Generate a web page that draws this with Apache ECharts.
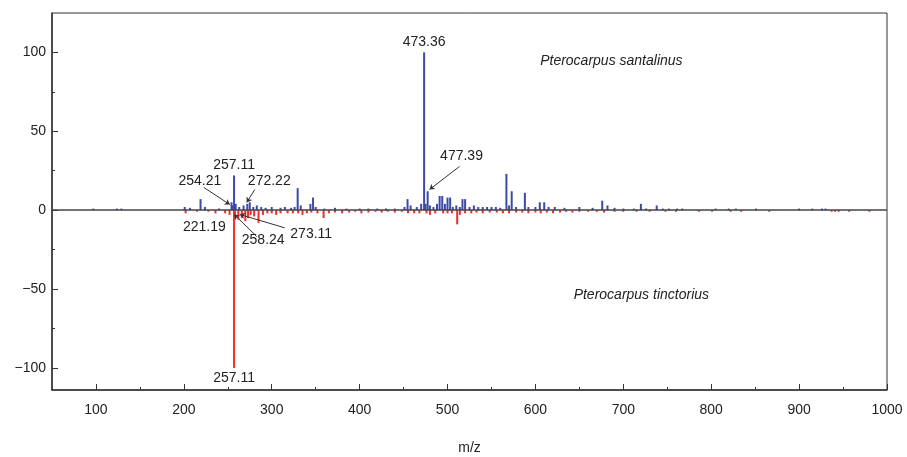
<!DOCTYPE html>
<html>
<head>
<meta charset="utf-8">
<script src="https://cdn.jsdelivr.net/npm/echarts@6/dist/echarts.min.js"></script>
<style>
html, body { margin: 0; padding: 0; background: #fff; }
#chart { width: 907px; height: 457px; }
</style>
</head>
<body>
<div id="chart"></div>
<script>
// Pterocarpus santalinus (up, blue)
var santalinus = [
	[97, 1], [124, 1], [129, 1], [201, 2], [207, 1.5], [219, 7], [224, 2], [240, 1],
	[254.21, 5], [255.5, 3], [257.11, 22], [259, 4], [263, 2], [268, 3], [272.22, 4],
	[275, 5], [279, 2], [283, 3], [288, 2], [293, 1.5], [300, 2], [310, 1.5], [315, 2],
	[322, 1.5], [326, 2], [329.5, 14], [333, 3], [344, 4], [347, 8], [350, 2], [360, 1],
	[372, 1.5], [385, 1], [400, 1], [410, 1], [420, 1], [430, 1], [440, 1], [451, 2],
	[454.5, 7], [458, 3], [465, 2], [470, 4], [473.36, 100], [475, 4], [477.39, 12],
	[480, 3], [484, 2], [488, 4], [491, 9], [494, 9], [497, 4], [500, 8], [503, 8],
	[506, 2], [510, 3], [514, 2], [517, 7], [520, 7], [525, 2], [530, 3], [535, 2],
	[540, 2], [545, 2], [550, 2], [555, 2], [560, 1.5], [567, 23], [570, 3], [573, 12],
	[578, 2], [588, 11], [592, 2], [600, 2], [605, 5], [610, 5], [615, 2], [622, 2],
	[633, 1.5], [650, 2], [665, 1.5], [676, 6], [682, 3], [690, 1.5], [700, 1],
	[712, 1], [720, 4], [726, 1], [738, 3], [745, 1], [752, 1], [761, 1], [767, 1],
	[805, 1], [820, 1], [828, 1], [851, 1], [900, 1], [915, 1], [926, 1], [930, 1]
];
// Pterocarpus tinctorius (down, red)
var tinctorius = [
	[202, -2], [215, -1], [228, -1], [236, -2], [247, -2], [252, -3], [257.11, -100],
	[258.24, -4], [262, -6], [266, -5], [270, -7], [273.11, -5], [276, -3], [280, -4],
	[285, -8], [290, -3], [295, -2], [300, -2], [305, -3], [310, -2], [318, -2],
	[324, -2], [330, -2], [335, -3], [340, -2], [345, -1.5], [352, -2], [359, -5],
	[365, -2], [372, -1.5], [380, -2], [388, -1.5], [395, -1], [402, -2], [410, -1.5],
	[418, -1], [425, -1.5], [432, -1], [440, -1.5], [448, -1], [455, -2], [462, -2],
	[468, -2], [476, -2], [480, -3], [486, -2], [495, -2], [500, -2], [505, -2],
	[511, -9], [514, -3], [520, -2], [527, -2], [533, -1.5], [540, -2], [548, -1.5],
	[556, -1.5], [563, -2], [570, -2], [578, -1.5], [585, -1.5], [592, -2], [600, -1.5],
	[606, -2], [613, -1.5], [620, -2], [628, -1.5], [635, -1], [642, -1.5], [650, -1],
	[660, -1], [670, -1], [678, -1.5], [690, -1], [700, -1], [715, -1], [730, -1],
	[748, -1], [760, -1], [786, -1], [801, -1], [822, -1], [834, -1], [866, -1],
	[937, -1], [941, -1], [945, -1], [957, -1], [980, -1]
];

var xMajor = [100, 200, 300, 400, 500, 600, 700, 800, 900, 1000];
var xMinor = [150, 250, 350, 450, 550, 650, 750, 850, 950];
var yMajor = [-100, -50, 0, 50, 100];
var yMinor = [-75, -25, 25, 75];

// peaks whose m/z is written at the bar end
var topLabels = [473.36, 257.11];
var bottomLabels = [257.11];

// annotation texts [x, y, text] in data units
var notes = [
	[218.2, 18.4, '254.21'],
	[297.2, 18.4, '272.22'],
	[223.3, -10.8, '221.19'],
	[290.3, -18.8, '258.24'],
	[344.9, -15, '273.11'],
	[515.9, 34, '477.39']
];
var species = [
	[686.4, 94.7, 'Pterocarpus santalinus'],
	[720.5, -54, 'Pterocarpus tinctorius']
];
// leader lines [x1, y1, x2, y2], arrow at the peak end
var leaders = [
	[222.7, 14.4, 252.3, 3.6],
	[280.7, 13.1, 271.6, 4.9],
	[283, -16.7, 257.3, -2.7],
	[314.8, -11.2, 263.6, -2.7],
	[513.6, 27.7, 479.5, 13.1]
];

var font = 'Liberation Sans, Arial, sans-serif';

function barItems(list, labels, pos) {
	return list.map(function (p) {
		if (labels.indexOf(p[0]) >= 0) {
			return {
				value: p,
				label: { show: true, position: pos, distance: 3, formatter: p[0].toFixed(2),
					color: '#222', fontSize: 14, fontFamily: font }
			};
		}
		return p;
	});
}

var chart = echarts.init(document.getElementById('chart'));
var xBase = { type: 'value', min: 50, max: 1000, position: 'bottom', splitLine: { show: false } };
var yBase = { type: 'value', min: -114, max: 125, position: 'left', splitLine: { show: false } };

chart.setOption({
	animation: false,
	backgroundColor: '#fff',
	grid: { left: 52, right: 20, top: 13, bottom: 67, show: true, borderColor: '#333', borderWidth: 1,
		outerBoundsMode: 'none', containLabel: false },
	xAxis: [
		Object.assign({}, xBase, {
			name: 'm/z', nameLocation: 'middle', nameGap: 51,
			nameTextStyle: { color: '#222', fontSize: 14, fontFamily: font },
			axisLine: { show: true, onZero: false, lineStyle: { color: '#333', width: 1.5 } },
			axisTick: { show: true, inside: true, length: 6, customValues: xMajor, lineStyle: { color: '#333' } },
			axisLabel: { show: true, margin: 13, customValues: xMajor, color: '#222', fontSize: 14, fontFamily: font,
				formatter: function (v) { return String(v); } }
		}),
		Object.assign({}, xBase, {
			axisLine: { show: false, onZero: false },
			axisTick: { show: true, inside: true, length: 3, customValues: xMinor, lineStyle: { color: '#333' } },
			axisLabel: { show: false }
		})
	],
	yAxis: [
		Object.assign({}, yBase, {
			axisLine: { show: true, lineStyle: { color: '#333', width: 1.5 } },
			axisTick: { show: true, inside: true, length: 6, customValues: yMajor, lineStyle: { color: '#333' } },
			axisLabel: { show: true, margin: 6, customValues: yMajor, color: '#222', fontSize: 14, fontFamily: font,
				formatter: function (v) { return v < 0 ? '\u2212' + (-v) : '' + v; } }
		}),
		Object.assign({}, yBase, {
			axisLine: { show: false },
			axisTick: { show: true, inside: true, length: 3, customValues: yMinor, lineStyle: { color: '#333' } },
			axisLabel: { show: false }
		})
	],
	series: [
		{
			type: 'bar', name: 'santalinus', barWidth: 2, barGap: '-100%',
			itemStyle: { color: '#3a4aa8' },
			data: barItems(santalinus, topLabels, 'top'),
			markLine: {
				silent: true, symbol: 'none', label: { show: false },
				lineStyle: { color: '#444', width: 1.5, type: 'solid' },
				data: [{ yAxis: 0 }]
			}
		},
		{
			type: 'bar', name: 'tinctorius', barWidth: 2, barGap: '-100%',
			itemStyle: { color: '#f22d2d' },
			data: barItems(tinctorius, bottomLabels, 'bottom')
		},
		{
			type: 'scatter', symbolSize: 0, silent: true, itemStyle: { opacity: 1 },
			data: notes.map(function (n) { return { value: [n[0], n[1]], name: n[2] }; }),
			label: { show: true, position: 'inside', formatter: '{b}', color: '#222', fontSize: 14, fontFamily: font },
			markLine: {
				silent: true, symbol: ['none', 'arrow'], symbolSize: 5, label: { show: false },
				lineStyle: { color: '#333', width: 1, type: 'solid', opacity: 1 },
				data: leaders.map(function (l) { return [{ coord: [l[0], l[1]] }, { coord: [l[2], l[3]] }]; })
			}
		},
		{
			type: 'scatter', symbolSize: 0, silent: true, itemStyle: { opacity: 1 },
			data: species.map(function (n) { return { value: [n[0], n[1]], name: n[2] }; }),
			label: { show: true, position: 'inside', formatter: '{b}', color: '#222', fontSize: 14,
				fontStyle: 'italic', fontFamily: font }
		}
	]
});
</script>
</body>
</html>
